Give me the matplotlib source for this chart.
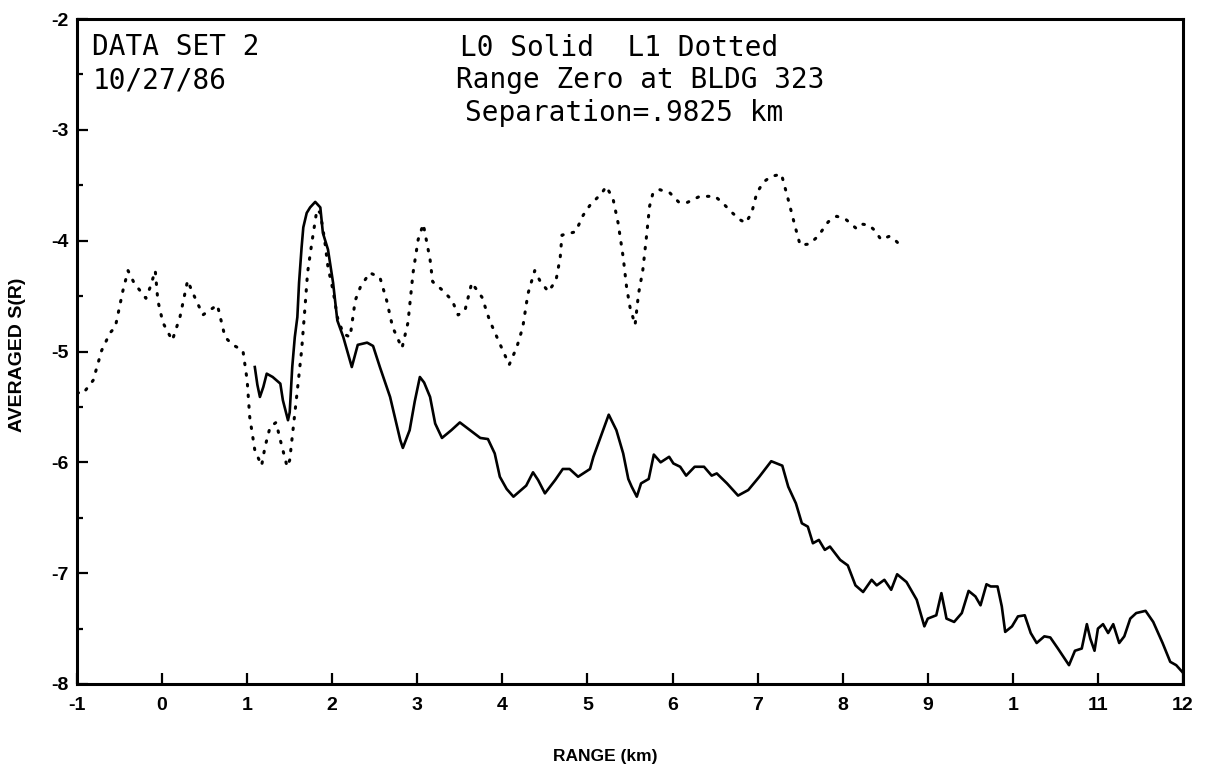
import matplotlib
matplotlib.use("Agg")
import matplotlib.pyplot as plt
from matplotlib.ticker import MultipleLocator

# L0 (solid) averaged S(R) versus range
l0_range = [1.09, 1.12, 1.15, 1.19, 1.23, 1.30, 1.36, 1.39, 1.42, 1.48, 1.50, 1.53, 1.56,
            1.59, 1.61, 1.64, 1.66, 1.70, 1.74, 1.80, 1.86, 1.89, 1.95, 2.01, 2.06, 2.13,
            2.23, 2.30, 2.41, 2.48, 2.56, 2.68, 2.80, 2.83, 2.91, 2.97, 3.03, 3.08, 3.15,
            3.21, 3.29, 3.40, 3.50, 3.62, 3.74, 3.83, 3.91, 3.97, 4.05, 4.13, 4.28, 4.36,
            4.42, 4.50, 4.62, 4.71, 4.79, 4.89, 5.03, 5.07, 5.15, 5.21, 5.25, 5.34, 5.42,
            5.48, 5.52, 5.58, 5.63, 5.72, 5.78, 5.86, 5.96, 6.01, 6.09, 6.16, 6.26, 6.37,
            6.46, 6.52, 6.64, 6.77, 6.89, 7.02, 7.16, 7.29, 7.36, 7.45, 7.52, 7.59, 7.65,
            7.72, 7.79, 7.85, 7.97, 8.06, 8.15, 8.24, 8.34, 8.40, 8.49, 8.57, 8.64, 8.75,
            8.87, 8.96, 9.00, 9.10, 9.16, 9.20, 9.22, 9.31, 9.40, 9.48, 9.56, 9.62, 9.69,
            9.74, 9.82, 9.87, 9.91, 9.99, 10.06, 10.14, 10.21, 10.28, 10.37, 10.44, 10.53,
            10.66, 10.73, 10.81, 10.87, 10.91, 10.96, 11.00, 11.06, 11.12, 11.18, 11.25,
            11.31, 11.38, 11.45, 11.56, 11.65, 11.76, 11.85, 11.92, 11.99]
l0_sr = [-5.14, -5.30, -5.41, -5.32, -5.20, -5.23, -5.27, -5.29, -5.44, -5.62, -5.55, -5.14,
         -4.87, -4.69, -4.38, -4.06, -3.88, -3.75, -3.70, -3.65, -3.70, -3.93, -4.08, -4.38,
         -4.72, -4.87, -5.14, -4.94, -4.92, -4.95, -5.14, -5.41, -5.80, -5.87, -5.71, -5.45,
         -5.23, -5.28, -5.41, -5.65, -5.78, -5.71, -5.64, -5.71, -5.78, -5.79, -5.92, -6.13,
         -6.24, -6.31, -6.21, -6.09, -6.16, -6.28, -6.16, -6.06, -6.06, -6.13, -6.06, -5.95,
         -5.78, -5.65, -5.57, -5.71, -5.92, -6.15, -6.22, -6.31, -6.19, -6.15, -5.93, -6.00,
         -5.95, -6.01, -6.04, -6.12, -6.04, -6.04, -6.12, -6.10, -6.19, -6.30, -6.25, -6.13,
         -5.99, -6.03, -6.22, -6.37, -6.55, -6.58, -6.73, -6.70, -6.79, -6.76, -6.88, -6.93,
         -7.11, -7.17, -7.06, -7.11, -7.06, -7.15, -7.01, -7.08, -7.24, -7.48, -7.41, -7.38,
         -7.18, -7.33, -7.41, -7.44, -7.36, -7.16, -7.21, -7.29, -7.10, -7.12, -7.12, -7.30,
         -7.53, -7.48, -7.39, -7.38, -7.54, -7.63, -7.57, -7.58, -7.68, -7.83, -7.70, -7.68,
         -7.46, -7.59, -7.70, -7.50, -7.46, -7.54, -7.46, -7.63, -7.57, -7.41, -7.36, -7.34,
         -7.44, -7.63, -7.80, -7.83, -7.89]

# L1 (dotted) averaged S(R) versus range
l1_range = [-1.00, -0.93, -0.81, -0.71, -0.61, -0.55, -0.46, -0.40, -0.33, -0.26, -0.19,
            -0.14, -0.08, -0.05, 0.01, 0.12, 0.21, 0.30, 0.36, 0.48, 0.65, 0.74, 0.83, 0.95,
            1.00, 1.03, 1.09, 1.17, 1.21, 1.27, 1.34, 1.39, 1.47, 1.50, 1.59, 1.64, 1.68,
            1.71, 1.76, 1.82, 1.86, 1.91, 1.95, 2.01, 2.06, 2.13, 2.21, 2.27, 2.33, 2.44,
            2.56, 2.64, 2.71, 2.82, 2.89, 2.95, 3.01, 3.07, 3.15, 3.18, 3.30, 3.41, 3.48,
            3.56, 3.64, 3.76, 3.85, 3.97, 4.08, 4.17, 4.24, 4.30, 4.38, 4.44, 4.54, 4.63,
            4.68, 4.70, 4.86, 4.95, 5.03, 5.17, 5.22, 5.30, 5.36, 5.42, 5.46, 5.50, 5.56,
            5.60, 5.65, 5.69, 5.73, 5.77, 5.85, 5.97, 6.07, 6.16, 6.32, 6.50, 6.59, 6.69,
            6.79, 6.86, 6.93, 6.99, 7.07, 7.16, 7.28, 7.36, 7.44, 7.50, 7.61, 7.71, 7.83,
            7.93, 8.04, 8.16, 8.22, 8.31, 8.38, 8.45, 8.55, 8.61, 8.70]
l1_sr = [-5.37, -5.38, -5.26, -4.99, -4.83, -4.78, -4.45, -4.27, -4.38, -4.45, -4.52, -4.42,
         -4.27, -4.54, -4.74, -4.90, -4.69, -4.36, -4.47, -4.67, -4.58, -4.87, -4.94, -4.99,
         -5.26, -5.59, -5.89, -6.03, -5.86, -5.68, -5.64, -5.80, -6.04, -5.98, -5.35, -4.99,
         -4.60, -4.29, -4.02, -3.72, -3.75, -3.99, -4.24, -4.45, -4.69, -4.84, -4.87, -4.54,
         -4.42, -4.29, -4.33, -4.54, -4.78, -4.97, -4.74, -4.29, -3.99, -3.85, -4.17, -4.37,
         -4.45, -4.54, -4.67, -4.63, -4.38, -4.51, -4.72, -4.93, -5.12, -4.96, -4.78, -4.48,
         -4.27, -4.36, -4.46, -4.36, -4.15, -3.95, -3.92, -3.77, -3.68, -3.57, -3.51, -3.62,
         -3.84, -4.15, -4.42, -4.60, -4.76, -4.48, -4.27, -3.99, -3.69, -3.57, -3.54, -3.57,
         -3.65, -3.66, -3.60, -3.60, -3.66, -3.74, -3.81, -3.84, -3.75, -3.57, -3.47, -3.42,
         -3.40, -3.63, -3.87, -4.04, -4.03, -3.96, -3.83, -3.78, -3.81, -3.89, -3.85, -3.86,
         -3.91, -3.99, -3.96, -3.99, -4.06]

x_ticks = [-1, 0, 1, 2, 3, 4, 5, 6, 7, 8, 9, 10, 11, 12]
x_tick_labels = ["-1", "0", "1", "2", "3", "4", "5", "6", "7", "8", "9", "1", "11", "12"]
y_ticks = [-8, -7, -6, -5, -4, -3, -2]
y_tick_labels = ["-8", "-7", "-6", "-5", "-4", "-3", "-2"]

header_left = ["DATA SET 2", "10/27/86"]
header_center = ["L0 Solid  L1 Dotted", "Range Zero at BLDG 323", "Separation=.9825 km"]

fig = plt.figure(figsize=(12.09, 7.69), dpi=100)
ax = fig.add_axes([77 / 1209, 1 - 684 / 769, 1106 / 1209, 665 / 769])

ax.plot(l0_range, l0_sr, color="black", lw=1.9, solid_joinstyle="round")
ax.plot(l1_range, l1_sr, color="black", lw=2.2, linestyle=(0, (0.5, 3.0)),
        dash_capstyle="round")

ax.set_xlim(-1, 12)
ax.set_ylim(-8, -2)

ax.set_xticks(x_ticks)
ax.set_xticklabels(x_tick_labels)
ax.set_yticks(y_ticks)
ax.set_yticklabels(y_tick_labels)
ax.yaxis.set_minor_locator(MultipleLocator(0.5))

ax.tick_params(axis="both", which="major", direction="in", length=8, width=1.6,
               top=False, right=False)
ax.tick_params(axis="y", which="minor", direction="in", length=4, width=1.6, right=False)
ax.tick_params(axis="x", which="major", pad=9)
ax.tick_params(axis="y", which="major", pad=6)
for lab in ax.get_xticklabels() + ax.get_yticklabels():
    lab.set_fontfamily("Liberation Sans")
    lab.set_fontweight("bold")
    lab.set_fontsize(14)

for sp in ax.spines.values():
    sp.set_linewidth(2.2)

ax.set_xlabel("RANGE (km)", fontfamily="Liberation Sans", fontweight="bold", fontsize=12.5)
ax.set_ylabel("AVERAGED S(R)", fontfamily="Liberation Sans", fontweight="bold", fontsize=14)
ax.xaxis.set_label_coords(0.478, -0.098)
ax.yaxis.set_label_coords(-0.046, 0.495)

mono = dict(fontfamily="DejaVu Sans Mono", fontsize=20, color="black", va="center",
            transform=ax.transAxes)
ax.text(0.0136, 0.958, header_left[0], ha="left", **mono)
ax.text(0.0145, 0.907, header_left[1], ha="left", **mono)
ax.text(0.490, 0.956, header_center[0], ha="center", **mono)
ax.text(0.509, 0.908, header_center[1], ha="center", **mono)
ax.text(0.495, 0.859, header_center[2], ha="center", **mono)

fig.savefig("out.png", dpi=100)
